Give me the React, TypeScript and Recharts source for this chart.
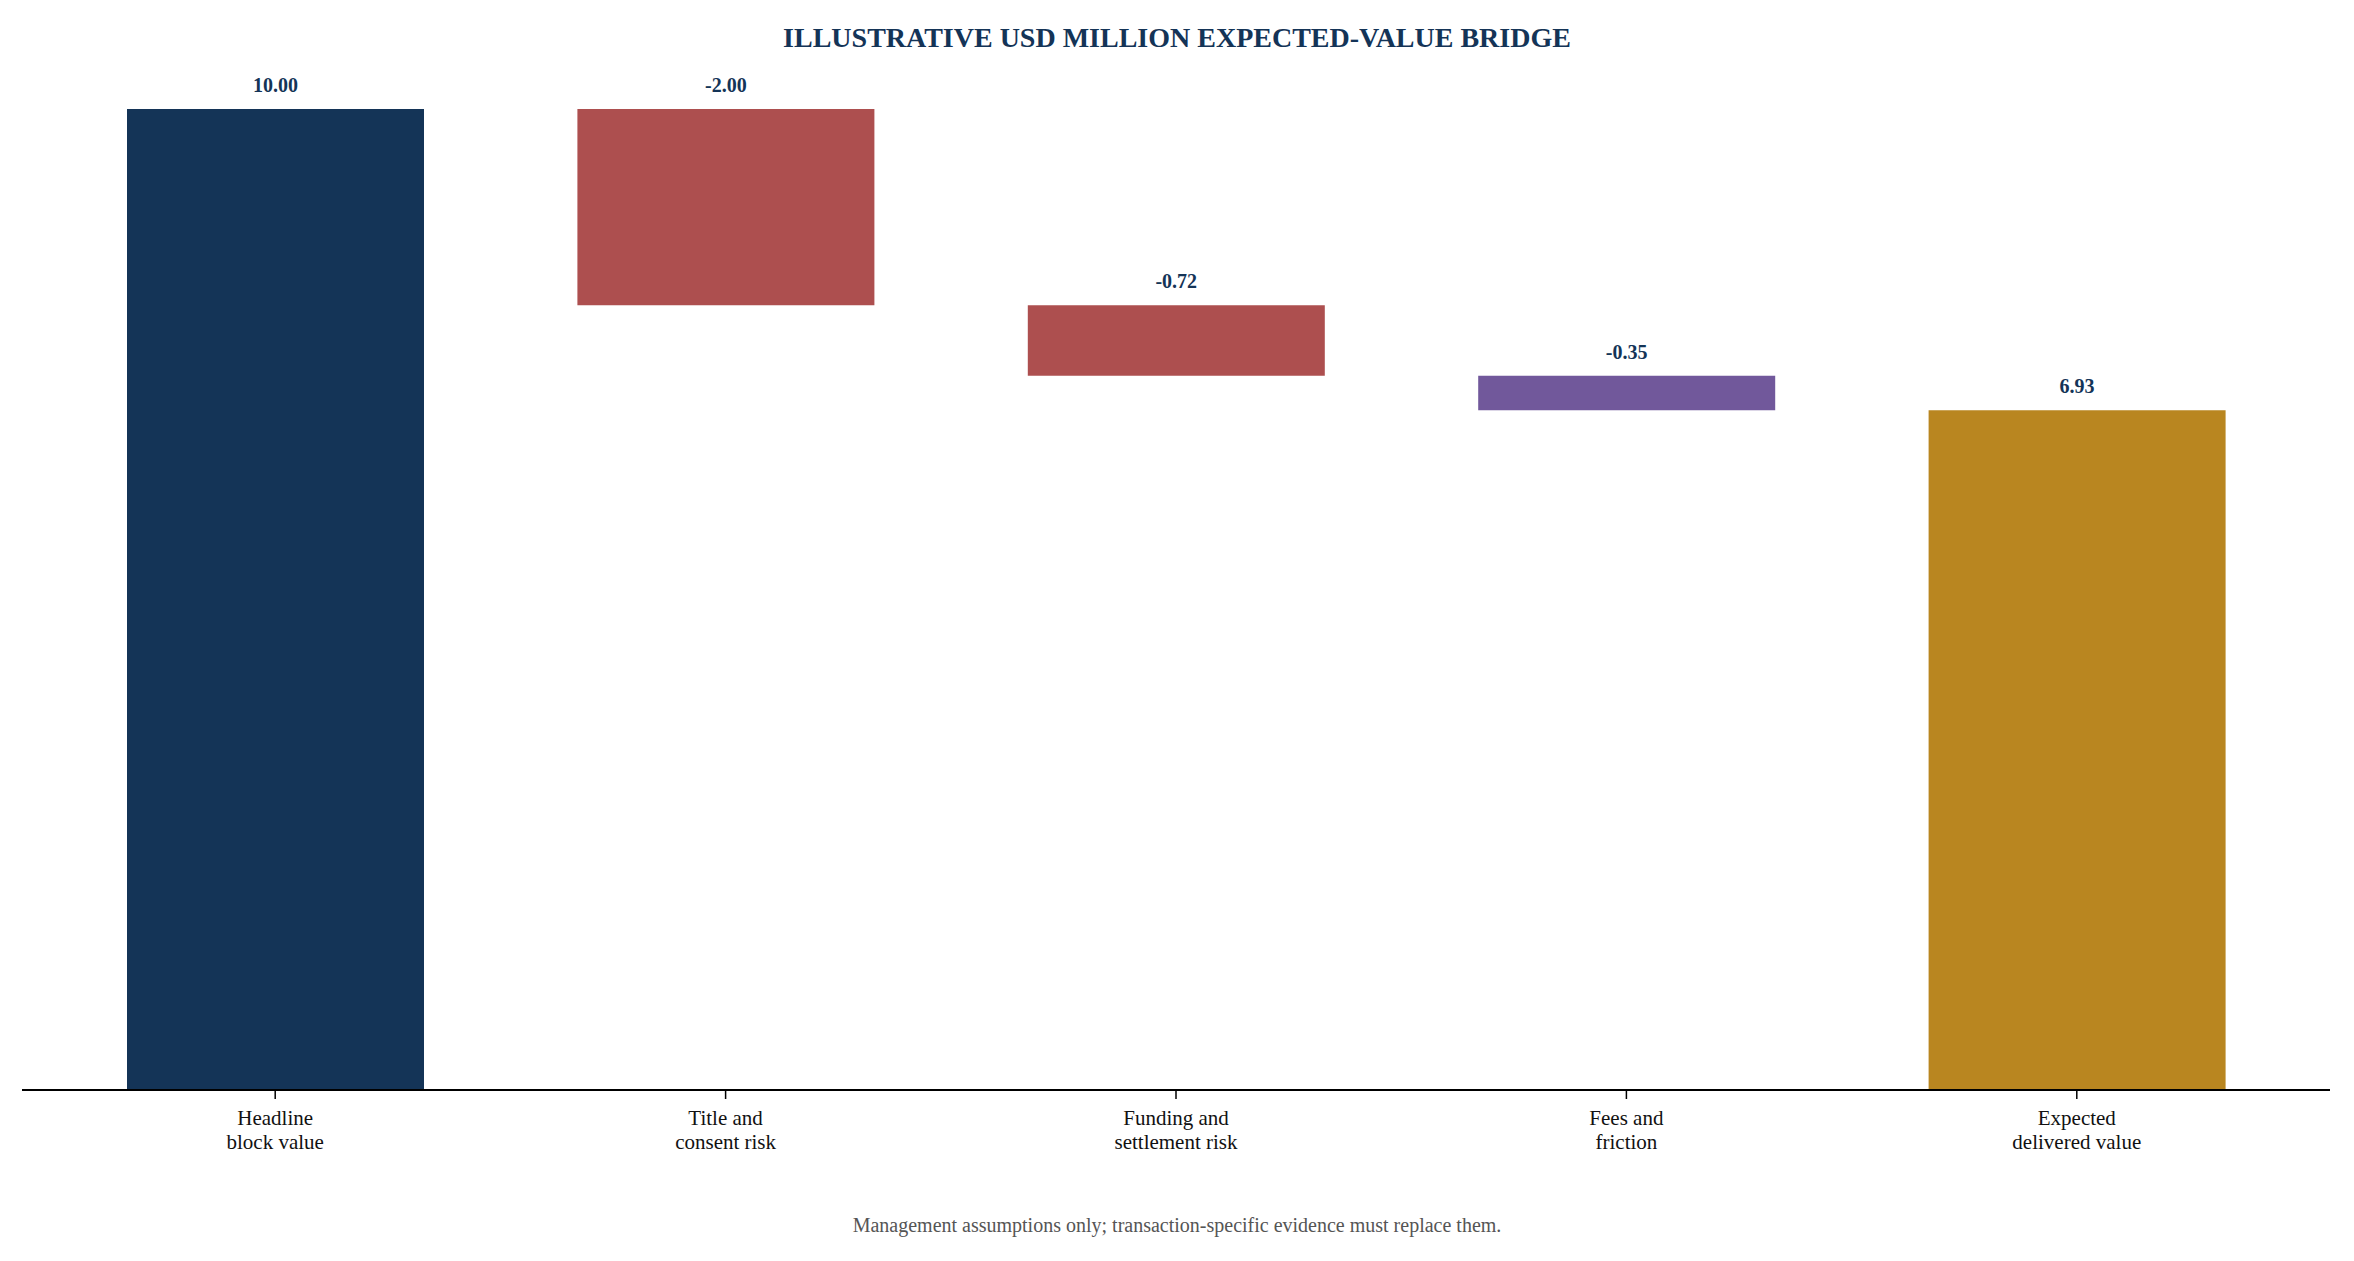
import React from 'react';
import { BarChart, Bar, XAxis, YAxis, Cell, LabelList } from 'recharts';

const categories = ['Headline\nblock value', 'Title and\nconsent risk', 'Funding and\nsettlement risk', 'Fees and\nfriction', 'Expected\ndelivered value'];
const bases = [0, 8, 7.28, 6.93, 0];
const heights = [10, 2, 0.72, 0.35, 6.93];
const labels = ['10.00', '-2.00', '-0.72', '-0.35', '6.93'];
const colors = ['#143457', '#ad4f4f', '#ad4f4f', '#71589b', '#b98620'];

const data = categories.map((name, i) => ({ name, base: bases[i], value: heights[i], label: labels[i] }));

const FONT = '"Liberation Serif", "Times New Roman", serif';

const Tick = (props: any) => {
  const { x, y, payload } = props;
  const lines = String(payload.value).split('\n');
  return (
    <g>
      {lines.map((l: string, i: number) => (
        <text key={i} x={x} y={y + 24 + i * 24} textAnchor="middle" fontFamily={FONT} fontSize={21} fill="#111">
          {l}
        </text>
      ))}
    </g>
  );
};

const ValueLabel = (props: any) => {
  const { x, y, width, index } = props;
  return (
    <text x={x + width / 2} y={y - 17} textAnchor="middle" fontFamily={FONT} fontSize={20} fontWeight="bold" fill="#143457">
      {labels[index]}
    </text>
  );
};

export default function App() {
  return (
    <div style={{ position: 'relative', width: 2338, height: 1245, fontFamily: FONT }}>
      <div style={{ position: 'absolute', top: 14, left: 0, width: 2338, textAlign: 'center', fontSize: 28, fontWeight: 'bold', color: '#143457' }}>
        ILLUSTRATIVE USD MILLION EXPECTED-VALUE BRIDGE
      </div>
      <BarChart width={2338} height={1245} data={data} margin={{ top: 52, right: 16, bottom: 133, left: 14 }} barCategoryGap={0}>
        <XAxis
          dataKey="name"
          tick={<Tick />}
          interval={0}
          axisLine={{ stroke: '#000', strokeWidth: 2 }}
          tickLine={{ stroke: '#000', strokeWidth: 1.5 }}
          tickSize={9}
          padding={{ left: 28, right: 28 }}
        />
        <YAxis hide domain={[0, 10.5]} />
        <Bar dataKey="base" stackId="w" fill="transparent" isAnimationActive={false} barSize={297} />
        <Bar dataKey="value" stackId="w" isAnimationActive={false} barSize={297}>
          {data.map((_, i) => (
            <Cell key={i} fill={colors[i]} />
          ))}
          <LabelList dataKey="label" content={<ValueLabel />} />
        </Bar>
      </BarChart>
      <div style={{ position: 'absolute', top: 1206, left: 0, width: 2338, textAlign: 'center', fontSize: 20, color: '#555' }}>
        Management assumptions only; transaction-specific evidence must replace them.
      </div>
    </div>
  );
}
